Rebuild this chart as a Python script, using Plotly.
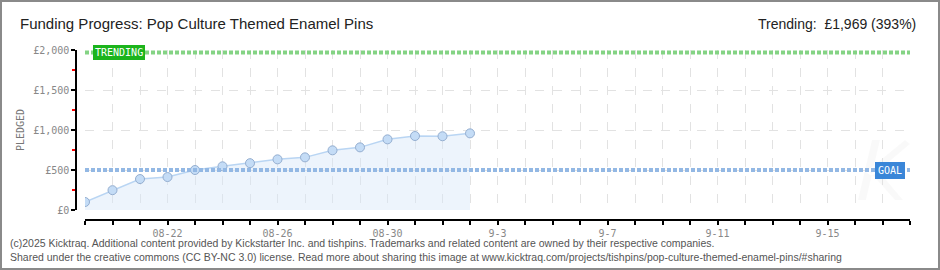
import plotly.graph_objects as go
import pandas as pd

# ---- data ----
dates = ["2025-08-19", "2025-08-20", "2025-08-21", "2025-08-22", "2025-08-23",
         "2025-08-24", "2025-08-25", "2025-08-26", "2025-08-27", "2025-08-28",
         "2025-08-29", "2025-08-30", "2025-08-31", "2025-09-01", "2025-09-02"]
pledged = [100, 248, 387, 412, 500, 546, 585, 633, 658, 746, 783, 883, 925, 922, 958]
goal = 500
trending = 1969
x_start, x_end = "2025-08-19", "2025-09-18"
xtick_vals = ["2025-08-22", "2025-08-26", "2025-08-30", "2025-09-03",
              "2025-09-07", "2025-09-11", "2025-09-15"]
xtick_text = ["08-22", "08-26", "08-30", "9-3", "9-7", "9-11", "9-15"]
ytick_vals = [0, 500, 1000, 1500, 2000]
ytick_text = ["£0", "£500", "£1,000", "£1,500", "£2,000"]
yminor_vals = [250, 750, 1250, 1750]
title_text = "Funding Progress: Pop Culture Themed Enamel Pins"
trend_text = "Trending:  £1,969 (393%)"
footer1 = ("(c)2025 Kicktraq. Additional content provided by Kickstarter Inc. and tishpins. "
           "Trademarks and related content are owned by their respective companies.")
footer2 = ("Shared under the creative commons (CC BY-NC 3.0) license. Read more about sharing "
           "this image at www.kicktraq.com/projects/tishpins/pop-culture-themed-enamel-pins/#sharing")

all_days = [d.strftime("%Y-%m-%d") for d in pd.date_range(x_start, x_end, freq="D")]

W, H = 940, 270
L, R, T, B = 76, 30, 50, 50
PW, PH = W - L - R, H - T - B

def px(x):
    return (x - L) / PW

def py(y):
    return (H - B - y) / PH

FONT = "Liberation Sans"
GRID = "#e2e2e2"

fig = go.Figure()
fig.add_trace(go.Scatter(
    x=dates, y=pledged, mode="lines+markers",
    line=dict(color="#b9d5f3", width=1.5),
    fill="tozeroy", fillcolor="rgba(214,230,249,0.45)",
    marker=dict(size=9, color="#c4dcf6", line=dict(color="#94aed0", width=1)),
    hoverinfo="skip", showlegend=False,
))

# faint "K" logo watermark drawn as a path in paper coordinates
def kpath():
    pts = [(872, 140), (858, 200), (866, 200), (880, 140)]
    s = "M " + " L ".join(f"{px(a):.4f},{py(b):.4f}" for a, b in pts) + " Z"
    s += " M " + " L ".join(f"{px(a):.4f},{py(b):.4f}" for a, b in
                            [(866, 172), (905, 140), (910, 144), (872, 176)]) + " Z"
    s += " M " + " L ".join(f"{px(a):.4f},{py(b):.4f}" for a, b in
                            [(870, 172), (895, 200), (903, 200), (876, 168)]) + " Z"
    return s

shapes = [
    dict(type="path", xref="paper", yref="paper", path=kpath(),
         fillcolor="rgba(0,0,0,0.025)", line=dict(width=0), layer="below"),
    dict(type="line", xref="x domain", yref="y", x0=0, x1=1, y0=goal, y1=goal,
         line=dict(color="#93b8e4", width=4, dash="4px,2px"), layer="above"),
    dict(type="line", xref="x domain", yref="y", x0=0, x1=1, y0=trending, y1=trending,
         line=dict(color="#84d384", width=4, dash="4px,2px"), layer="above"),
    dict(type="rect", xref="paper", yref="paper", x0=px(1), x1=px(939), y0=py(269), y1=py(1),
         line=dict(color="#8a8a8a", width=2), layer="below"),
]

annotations = [
    dict(text="GOAL", xref="x domain", yref="y", x=1, y=goal, xshift=-5, showarrow=False,
         xanchor="right", yanchor="middle", bgcolor="#3a86d8", bordercolor="#3a86d8",
         borderpad=2, font=dict(family="DejaVu Sans Mono", size=10, color="white")),
    dict(text="TRENDING", xref="x domain", yref="y", x=0, y=trending, xshift=8, showarrow=False,
         xanchor="left", yanchor="middle", bgcolor="#1cb41c", bordercolor="#1cb41c",
         borderpad=1, font=dict(family="DejaVu Sans Mono", size=10, color="white")),
    dict(text=trend_text, xref="paper", yref="paper", x=px(918), y=py(24), showarrow=False,
         xanchor="right", yanchor="middle", font=dict(family=FONT, size=14, color="#222")),
    dict(text=footer1, xref="paper", yref="paper", x=px(8), y=py(243), showarrow=False,
         xanchor="left", yanchor="middle", font=dict(family=FONT, size=10.5, color="#555")),
    dict(text=footer2, xref="paper", yref="paper", x=px(8), y=py(257), showarrow=False,
         xanchor="left", yanchor="middle", font=dict(family=FONT, size=10.5, color="#555")),
]

fig.update_layout(
    width=W, height=H,
    margin=dict(l=L, r=R, t=T, b=B),
    paper_bgcolor="white", plot_bgcolor="white",
    title=dict(text=title_text, xref="container", yref="container", x=20 / W, y=1 - 24 / H,
               xanchor="left", yanchor="middle", font=dict(family=FONT, size=15, color="#222")),
    shapes=shapes, annotations=annotations,
    xaxis=dict(
        type="date", range=[x_start, x_end], domain=[(85 - L) / PW, 1],
        anchor="free", position=0,
        tickmode="array", tickvals=xtick_vals, ticktext=xtick_text,
        ticks="outside", ticklen=4, tickcolor="black", tickwidth=1.5,
        showline=True, linecolor="black", linewidth=1.5,
        showgrid=True, gridcolor=GRID, griddash="dash", gridwidth=1,
        tickfont=dict(family="DejaVu Sans Mono", size=10, color="#888"),
        minor=dict(tickmode="array", tickvals=all_days, ticks="outside", ticklen=4,
                   tickcolor="black", tickwidth=1.5, showgrid=True, gridcolor=GRID,
                   griddash="dash", gridwidth=1),
        zeroline=False, fixedrange=True,
    ),
    yaxis=dict(
        range=[0, 2000], domain=[(220 - 210) / PH, 1],
        anchor="free", position=0,
        tickmode="array", tickvals=ytick_vals, ticktext=ytick_text,
        ticks="outside", ticklen=4, tickcolor="black", tickwidth=1.5,
        showline=True, linecolor="black", linewidth=1.5,
        showgrid=True, gridcolor=GRID, griddash="dash", gridwidth=1,
        tickfont=dict(family="DejaVu Sans Mono", size=10, color="#888"),
        minor=dict(tickmode="array", tickvals=yminor_vals, ticks="outside", ticklen=3,
                   tickcolor="red", tickwidth=1.5, showgrid=False),
        title=dict(text="PLEDGED", font=dict(family="DejaVu Sans Mono", size=10, color="#777"),
                   standoff=6),
        zeroline=False, fixedrange=True,
    ),
)

fig.write_html("out.html", config={"displayModeBar": False},
               post_script="document.body.style.margin='0';")
